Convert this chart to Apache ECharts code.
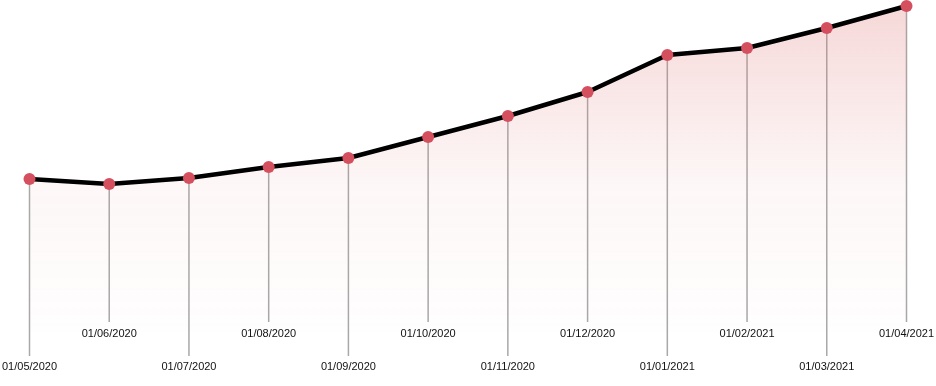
<!DOCTYPE html>
<html><head><meta charset="utf-8">
<script src="https://cdn.jsdelivr.net/npm/echarts@6/dist/echarts.min.js"></script>
<style>html,body{margin:0;padding:0;background:#fff}#c{width:936px;height:386px}</style>
</head><body><div id="c"></div>
<script>
var categories = ['01/05/2020','01/06/2020','01/07/2020','01/08/2020','01/09/2020','01/10/2020','01/11/2020','01/12/2020','01/01/2021','01/02/2021','01/03/2021','01/04/2021'];
var values = [153, 148, 154, 165, 174, 195, 216, 240, 277, 284, 304, 326];

var chart = echarts.init(document.getElementById('c'));
chart.setOption({
  animation: false,
  grid: {left: 29.5, right: 29.5, top: 6, bottom: 54},
  xAxis: {type: 'category', data: categories, boundaryGap: false, show: false},
  yAxis: {type: 'value', min: 0, max: 326, show: false},
  series: [
    {
      type: 'custom',
      z: 1,
      clip: false,
      data: values.map(function(v, i){ return [i, v]; }),
      renderItem: function(params, api){
        var i = api.value(0);
        var pt = api.coord([i, api.value(1)]);
        var base = api.coord([i, 0])[1];
        var low = (i % 2 === 0);
        var endY = low ? base + 24 : base - 10;
        var labY = low ? base + 35 : base + 2;
        return {
          type: 'group',
          children: [
            {type: 'line', shape: {x1: pt[0], y1: pt[1], x2: pt[0], y2: endY}, style: {stroke: '#a8a8a8', lineWidth: 1.5}},
            {type: 'text', x: pt[0], y: labY, style: {text: categories[i], textAlign: 'center', textVerticalAlign: 'middle', fill: '#111', font: '11px "Liberation Sans", Arial, sans-serif'}}
          ]
        };
      }
    },
    {
      type: 'line',
      z: 2,
      data: values,
      symbol: 'circle',
      symbolSize: 12,
      itemStyle: {color: '#d5505f', borderColor: '#d5505f', borderWidth: 0},
      lineStyle: {color: '#000', width: 4.5},
      areaStyle: {
        color: new echarts.graphic.LinearGradient(0, 0, 0, 1, [
          {offset: 0, color: 'rgba(222,110,110,0.38)'},
          {offset: 0.55, color: 'rgba(222,110,110,0.08)'},
          {offset: 1, color: 'rgba(222,110,110,0.01)'}
        ])
      }
    }
  ]
});
</script>
</body></html>
